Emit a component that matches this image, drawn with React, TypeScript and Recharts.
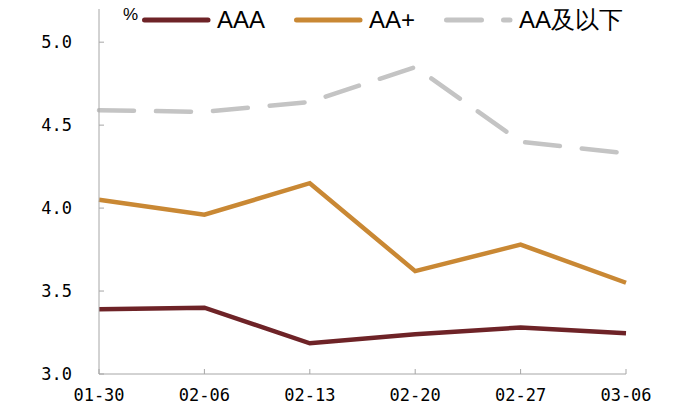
import { Legend, Line, LineChart, XAxis, YAxis } from 'recharts';

const dates = ['01-30', '02-06', '02-13', '02-20', '02-27', '03-06'];
const aaaValues = [3.39, 3.4, 3.185, 3.24, 3.28, 3.245];
const aaPlusValues = [4.05, 3.96, 4.15, 3.62, 3.78, 3.55];
const aaBelowValues = [4.59, 4.58, 4.64, 4.85, 4.4, 4.33];
const yTicks = [3.0, 3.5, 4.0, 4.5, 5.0];

const data = dates.map((d, i) => ({
  date: d,
  AAA: aaaValues[i],
  'AA+': aaPlusValues[i],
  'AA及以下': aaBelowValues[i],
}));

const series = [
  { key: 'AAA', color: '#6E2327', dash: undefined },
  { key: 'AA+', color: '#C98834', dash: undefined },
  { key: 'AA及以下', color: '#C4C4C4', dash: '35 22' },
];

const axisColor = '#A6A6A6';
const tickFont = { fontSize: 17, fill: '#000', fontFamily: 'DejaVu Sans Mono' };

const renderLegend = () => (
  <div style={{ position: 'relative', height: 40, width: 700, fontFamily: 'Liberation Sans, Arial, sans-serif', color: '#000' }}>
    <span style={{ position: 'absolute', left: 123, top: 6, fontSize: 17, lineHeight: '17px' }}>%</span>
    <div style={{ position: 'absolute', left: 142, top: 0, height: 40, display: 'flex', alignItems: 'center' }}>
      {series.map((s) => (
        <div key={s.key} style={{ display: 'flex', alignItems: 'center', marginRight: 29 }}>
          <svg width={70} height={8}>
            <line x1={2.5} y1={4} x2={66} y2={4} stroke={s.color} strokeWidth={5}
              strokeLinecap="round" strokeDasharray={s.dash} />
          </svg>
          <span style={{ marginLeft: 5, fontSize: 24, lineHeight: '24px' }}>{s.key}</span>
        </div>
      ))}
    </div>
  </div>
);

export default function App() {
  return (
    <div style={{ position: 'absolute', left: 0, top: 0, width: 700, height: 414, background: '#fff' }}>
      <LineChart width={700} height={414} data={data} margin={{ top: 9, right: 74, left: 0, bottom: 0 }}>
        <XAxis dataKey="date" height={40} tickSize={-5} tickMargin={20}
          axisLine={{ stroke: axisColor }} tickLine={{ stroke: axisColor }} tick={tickFont} />
        <YAxis width={99} domain={[3, 5.2]} ticks={yTicks} tickSize={-5} tickMargin={32}
          axisLine={{ stroke: axisColor }} tickLine={{ stroke: axisColor }} tick={tickFont}
          tickFormatter={(v: number) => v.toFixed(1)} />
        <Legend verticalAlign="middle" align="center" layout="horizontal" content={renderLegend}
          wrapperStyle={{ top: 0, left: 0, width: 700 }} />
        {series.map((s) => (
          <Line key={s.key} dataKey={s.key} type="linear" stroke={s.color} strokeWidth={4.5}
            strokeDasharray={s.dash} strokeLinecap={s.dash ? 'round' : undefined}
            dot={false} activeDot={false} isAnimationActive={false} />
        ))}
      </LineChart>
    </div>
  );
}
